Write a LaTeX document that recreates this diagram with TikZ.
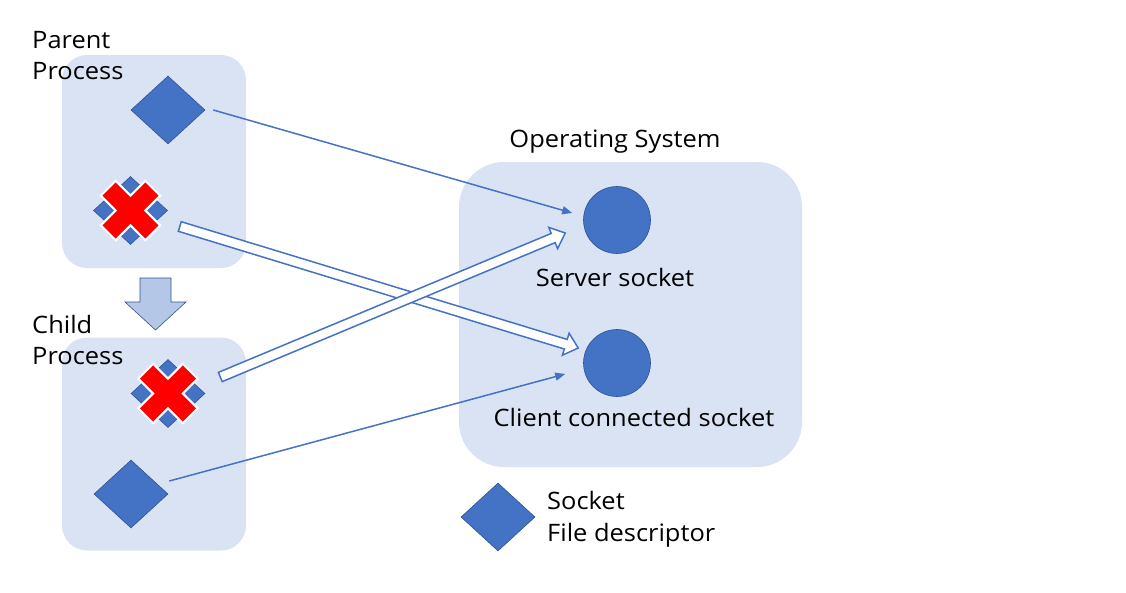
\documentclass[tikz,border=0pt]{standalone}
\usepackage{fontspec}
\setmainfont[FakeStretch=1.06]{Open Sans}
\usepackage{tikz}
\usetikzlibrary{shapes.geometric}
\usetikzlibrary{arrows.meta}
\usetikzlibrary{calc}
\definecolor{fdblue}{HTML}{4472C4}
\definecolor{fdedge}{HTML}{2F528F}
\definecolor{boxblue}{HTML}{DAE3F3}
\definecolor{copyblue}{HTML}{B4C7E7}
% red cross on a closed descriptor
\newcommand{\redcross}[1]{%
  \draw[xmark,shift={(#1)},rotate=45] (10.5,10.5) -- (31.5,10.5) -- (31.5,-10.5) -- (10.5,-10.5)
    -- (10.5,-31.5) -- (-10.5,-31.5) -- (-10.5,-10.5) -- (-31.5,-10.5) -- (-31.5,10.5)
    -- (-10.5,10.5) -- (-10.5,31.5) -- (10.5,31.5) -- cycle;}
% open block arrow between two named coordinates
\newcommand{\hollowarrow}[2]{%
  \coordinate (hh) at ($(#2)!13pt!(#1)$);
  \draw[hollow] ($(#1)!5pt!90:(#2)$) -- ($(hh)!5pt!90:(#2)$) -- ($(hh)!11.5pt!90:(#2)$) -- (#2)
    -- ($(hh)!11.5pt!-90:(#2)$) -- ($(hh)!5pt!-90:(#2)$) -- ($(#1)!5pt!-90:(#2)$) -- cycle;}
\tikzset{
  procbox/.style={fill=boxblue,rounded corners=25pt,minimum width=184pt,minimum height=213pt,inner sep=0pt},
  osbox/.style={fill=boxblue,rounded corners=45pt,minimum width=343pt,minimum height=305pt,inner sep=0pt},
  fd/.style={diamond,fill=fdblue,draw=fdedge,line width=0.6pt,minimum width=74pt,minimum height=68pt,inner sep=0pt},
  sock/.style={circle,fill=fdblue,draw=fdedge,line width=0.6pt,minimum size=67pt,inner sep=0pt},
  xmark/.style={fill=red,draw=white,line width=2pt,line join=miter},
  hollow/.style={fill=white,draw=fdblue,line width=1.5pt,line join=miter},
  fdlink/.style={draw=fdblue,line width=1.5pt,-{Triangle[length=10pt,width=8pt]}},
  lbl/.style={font=\fontsize{24}{31}\selectfont,inner sep=0pt,align=left}
}
\begin{document}
\begin{tikzpicture}[x=1pt,y=-1pt]
    \useasboundingbox (0,0) rectangle (1126,592);
    % Boxes
    \node[procbox] (pbox) at (154,161.5) {};
    \node[procbox] (cbox) at (154,444) {};
    \node[osbox] (os) at (630.5,314.5) {};
    % Labels (base is the last line)
    \node[lbl,anchor=base west] (ptxt) at (32,79) {Parent\\Process};
    \node[lbl,anchor=base west] (ctxt) at (32,364) {Child\\Process};
    \node[lbl,anchor=base] (ostxt) at (615,147) {Operating System};
    \node[lbl,anchor=base] (srvtxt) at (615,286) {Server socket};
    \node[lbl,anchor=base] (clitxt) at (634,426) {Client connected socket};
    \node[lbl,anchor=base west,font=\fontsize{24}{32}\selectfont] (legtxt) at (547,541) {Socket\\File descriptor};
    % Descriptors
    \node[fd] (pfd) at (168,110) {};
    \node[fd] (pxfd) at (130.5,210.5) {};
    \node[fd] (cxfd) at (168,393.5) {};
    \node[fd] (cfd) at (131,494) {};
    \node[fd] (legfd) at (498,517) {};
    \redcross{pxfd}
    \redcross{cxfd}
    % Sockets
    \node[sock] (srv) at (617,220) {};
    \node[sock] (cli) at (617,363) {};
    % fork
    \draw[fill=copyblue,draw=fdedge,line width=0.6pt] (140,278) -- (171,278) -- (171,302) -- (186,302)
      -- (155.5,330) -- (125,302) -- (140,302) -- cycle;
    % Links
    \coordinate (a1s) at ([xshift=12pt,yshift=-16pt]pxfd.east);
    \coordinate (a1e) at ([xshift=-5pt,yshift=15pt]cli.west);
    \coordinate (a2s) at ([xshift=15pt,yshift=16.5pt]cxfd.east);
    \coordinate (a2e) at ([xshift=-18pt,yshift=-13pt]srv.west);
    \hollowarrow{a1s}{a1e}
    \hollowarrow{a2s}{a2e}
    \draw[fdlink] ([xshift=8pt]pfd.east) -- ([xshift=-11pt,yshift=7pt]srv.west);
    \draw[fdlink] ([xshift=1pt,yshift=13pt]cfd.east) -- ([xshift=-18pt,yshift=-11pt]cli.west);
\end{tikzpicture}
\end{document}
